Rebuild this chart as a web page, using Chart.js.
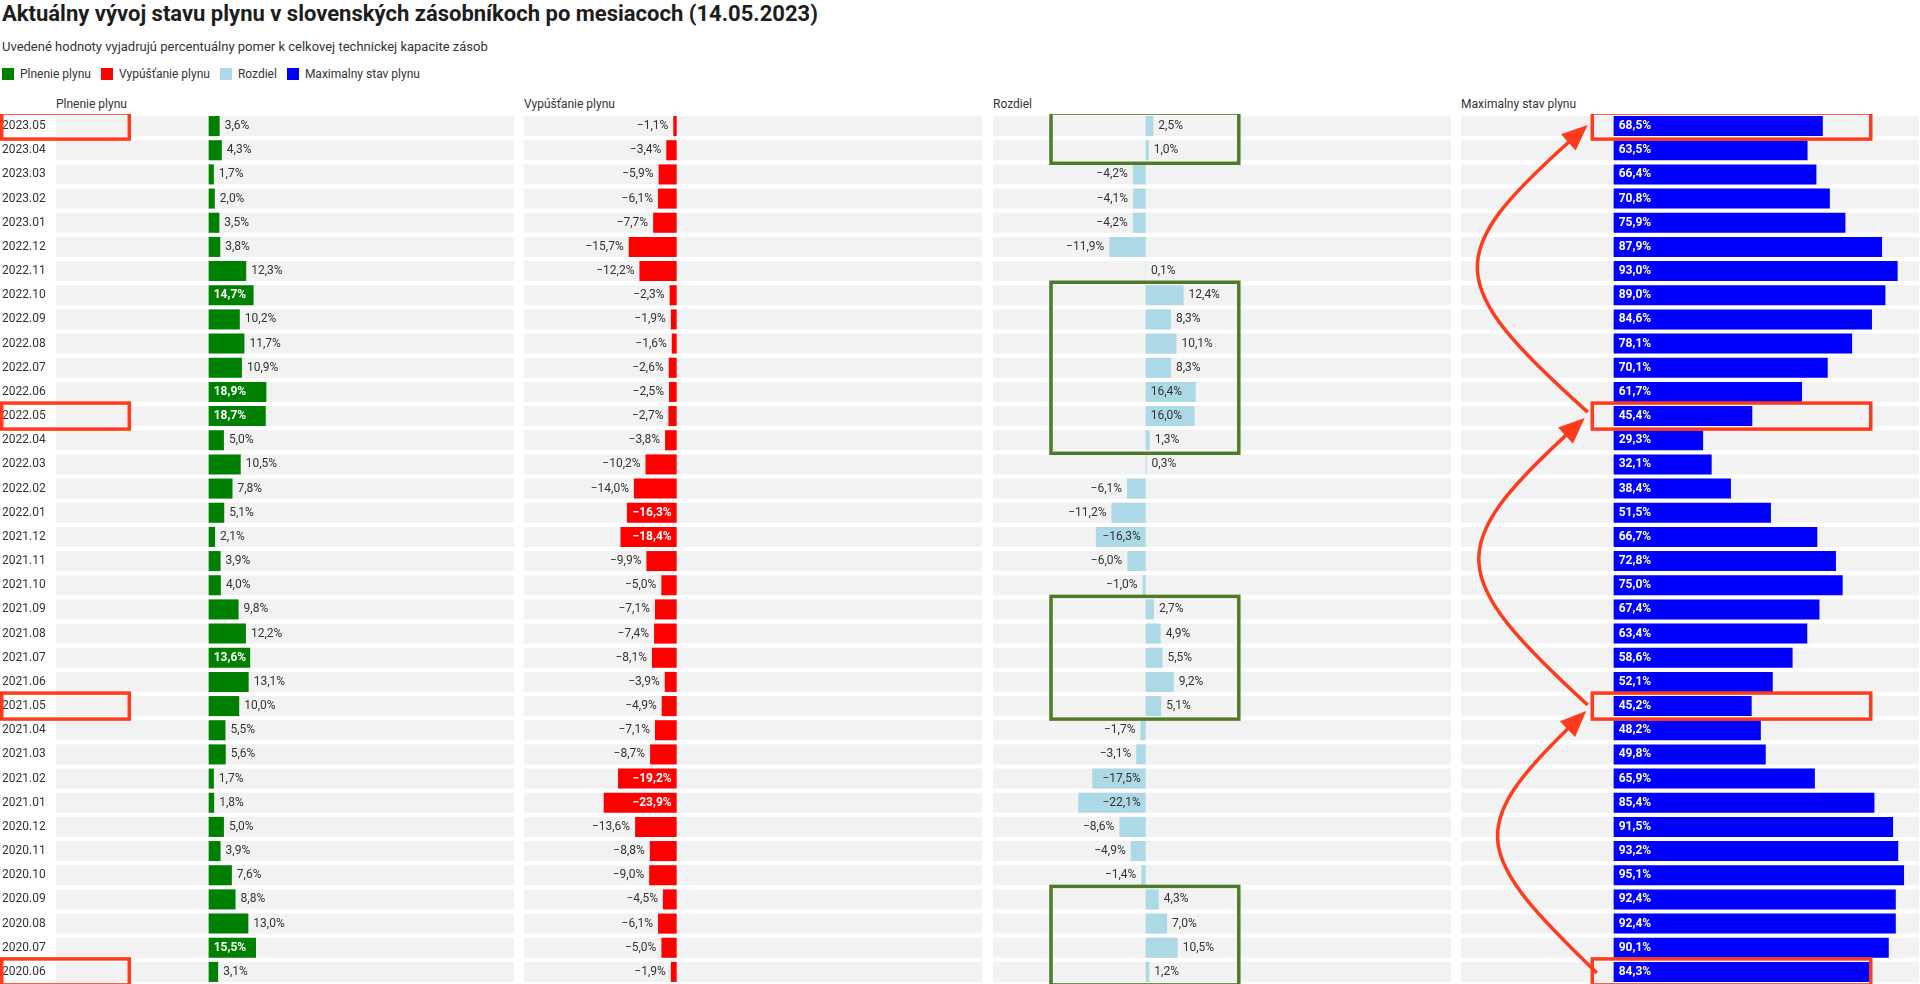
<!DOCTYPE html>
<html>
<head>
<meta charset="utf-8">
<script src="https://cdn.jsdelivr.net/npm/chart.js@4.4.1/dist/chart.umd.min.js"></script>
<style>
  html, body { margin: 0; padding: 0; background: #ffffff; }
  body { width: 1920px; height: 984px; position: relative; overflow: hidden;
         font-family: Roboto, "Noto Sans", sans-serif; color: #333333; }
  #title { position: absolute; left: 2px; top: 1px; font-size: 22px; font-weight: 700;
           color: #1d1d1d; white-space: nowrap; line-height: 26px; }
  #subtitle { position: absolute; left: 2px; top: 39px; font-size: 13px; white-space: nowrap; line-height: 16px; }
  #legend { position: absolute; left: 2px; top: 67px; font-size: 12px; display: flex; white-space: nowrap; line-height: 14px; }
  .leg { display: flex; align-items: center; margin-right: 10px; }
  .sw { width: 12px; height: 12px; margin-right: 6px; }
  .hdr { position: absolute; top: 97px; font-size: 12px; white-space: nowrap; line-height: 14px; }
  .panel { position: absolute; }
</style>
</head>
<body>
<div id="title"></div>
<div id="subtitle"></div>
<div id="legend"></div>
<div id="headers"></div>
<div id="panels"></div>
<script>
// ---------------- DATA ----------------
const months = ['2023.05','2023.04','2023.03','2023.02','2023.01','2022.12','2022.11','2022.10','2022.09','2022.08','2022.07','2022.06','2022.05','2022.04','2022.03','2022.02','2022.01','2021.12','2021.11','2021.10','2021.09','2021.08','2021.07','2021.06','2021.05','2021.04','2021.03','2021.02','2021.01','2020.12','2020.11','2020.10','2020.09','2020.08','2020.07','2020.06'];
const plnenie = [3.6,4.3,1.7,2.0,3.5,3.8,12.3,14.7,10.2,11.7,10.9,18.9,18.7,5.0,10.5,7.8,5.1,2.1,3.9,4.0,9.8,12.2,13.6,13.1,10.0,5.5,5.6,1.7,1.8,5.0,3.9,7.6,8.8,13.0,15.5,3.1];
const vypustanie = [-1.1,-3.4,-5.9,-6.1,-7.7,-15.7,-12.2,-2.3,-1.9,-1.6,-2.6,-2.5,-2.7,-3.8,-10.2,-14.0,-16.3,-18.4,-9.9,-5.0,-7.1,-7.4,-8.1,-3.9,-4.9,-7.1,-8.7,-19.2,-23.9,-13.6,-8.8,-9.0,-4.5,-6.1,-5.0,-1.9];
const rozdiel = [2.5,1.0,-4.2,-4.1,-4.2,-11.9,0.1,12.4,8.3,10.1,8.3,16.4,16.0,1.3,0.3,-6.1,-11.2,-16.3,-6.0,-1.0,2.7,4.9,5.5,9.2,5.1,-1.7,-3.1,-17.5,-22.1,-8.6,-4.9,-1.4,4.3,7.0,10.5,1.2];
const maxStav = [68.5,63.5,66.4,70.8,75.9,87.9,93.0,89.0,84.6,78.1,70.1,61.7,45.4,29.3,32.1,38.4,51.5,66.7,72.8,75.0,67.4,63.4,58.6,52.1,45.2,48.2,49.8,65.9,85.4,91.5,93.2,95.1,92.4,92.4,90.1,84.3];
const seriesNames = ['Plnenie plynu','Vypúšťanie plynu','Rozdiel','Maximalny stav plynu'];
const titleText = 'Aktuálny vývoj stavu plynu v slovenských zásobníkoch po mesiacoch (14.05.2023)';
const subtitleText = 'Uvedené hodnoty vyjadrujú percentuálny pomer k celkovej technickej kapacite zásob';
const axisMin = -50, axisMax = 100;

// annotation targets (rows)
const redRows = ['2023.05','2022.05','2021.05','2020.06'];
const greenGroups = [['2023.05','2023.04'],['2022.10','2022.04'],['2021.09','2021.05'],['2020.09','2020.06']];
const arrowLinks = [['2022.05','2023.05'],['2021.05','2022.05'],['2020.06','2021.05']];

// ---------------- STYLE / LAYOUT ----------------
const seriesValues = [plnenie, vypustanie, rozdiel, maxStav];
const STYLE = {
  colors: ['#008000','#ff0000','#add8e6','#0000ff'],
  insideText: ['#ffffff','#ffffff','#333333','#ffffff'],
  insideBold: [true, true, false, true],
  alwaysInside: [false, false, false, true],
  band: '#f2f2f2', text: '#333333',
  insideGap: 10.0, pad: 5,
  annRed: '#ff3b1d', annGreen: '#4e7b26', annWidth: 3.5
};
const LAYOUT = { lefts: [56, 524, 993, 1461], width: 458, top: 114, height: 870, labelWidth: 56, barPct: 0.83 };

Chart.defaults.font.family = 'Roboto, "Noto Sans", sans-serif';
Chart.defaults.color = STYLE.text;

document.getElementById('title').textContent = titleText;
document.getElementById('subtitle').textContent = subtitleText;
const legendEl = document.getElementById('legend');
seriesNames.forEach((n, i) => {
  const d = document.createElement('div'); d.className = 'leg';
  d.innerHTML = '<div class="sw" style="background:' + STYLE.colors[i] + '"></div><span></span>';
  d.querySelector('span').textContent = n;
  legendEl.appendChild(d);
});
const hdrEl = document.getElementById('headers');
seriesNames.forEach((n, i) => {
  const d = document.createElement('div'); d.className = 'hdr';
  d.style.left = LAYOUT.lefts[i] + 'px'; d.textContent = n; hdrEl.appendChild(d);
});

function fmt(v) {
  const s = Math.abs(v).toFixed(1).replace('.', ',') + '%';
  return v < 0 ? '\u2212' + s : s;
}

const bandPlugin = {
  id: 'bands',
  beforeDatasetsDraw(chart) {
    const ys = chart.scales.y, a = chart.chartArea, ctx = chart.ctx;
    const pitch = ys.height / months.length, h = pitch * LAYOUT.barPct;
    ctx.save(); ctx.fillStyle = STYLE.band;
    months.forEach((m, i) => {
      const yc = ys.getPixelForValue(i);
      ctx.fillRect(a.left, yc - h / 2, a.right - a.left, h);
    });
    ctx.restore();
  }
};

const labelPlugin = {
  id: 'valueLabels',
  afterDatasetsDraw(chart, args, opts) {
    const k = opts.idx, ctx = chart.ctx;
    const meta = chart.getDatasetMeta(0);
    const vals = seriesValues[k];
    ctx.save(); ctx.textBaseline = 'middle';
    meta.data.forEach((bar, i) => {
      const v = vals[i], txt = fmt(v);
      const w = Math.abs(bar.x - bar.base);
      const inFont = (STYLE.insideBold[k] ? '700 ' : '400 ') + '12px Roboto';
      ctx.font = '400 12px Roboto';
      const twReg = ctx.measureText(txt).width;
      const inside = STYLE.alwaysInside[k] || w >= twReg + STYLE.insideGap;
      const dir = v < 0 ? -1 : 1;
      if (inside) {
        ctx.font = inFont; ctx.fillStyle = STYLE.insideText[k];
        ctx.textAlign = dir > 0 ? 'left' : 'right';
        ctx.fillText(txt, bar.base + dir * STYLE.pad, bar.y);
      } else {
        ctx.font = '400 12px Roboto'; ctx.fillStyle = STYLE.text;
        ctx.textAlign = dir > 0 ? 'left' : 'right';
        ctx.fillText(txt, bar.x + dir * STYLE.pad, bar.y);
      }
    });
    ctx.restore();
  }
};

function rowY(chart, label) { return chart.scales.y.getPixelForValue(months.indexOf(label)); }

function strokeBox(ctx, x0, y0, x1, y1, color) {
  ctx.save(); ctx.strokeStyle = color; ctx.lineWidth = STYLE.annWidth; ctx.lineJoin = 'miter';
  ctx.strokeRect(x0, y0, x1 - x0, y1 - y0); ctx.restore();
}

function drawArrow(ctx, tail, tip, bulgeX, color) {
  // cubic curve bulging to the left, ending with a filled arrowhead
  const c = (Math.min(tail.x, tip.x) - bulgeX) / 0.75;
  const d = Math.abs(tail.y - tip.y) * 0.45;
  const cp1 = { x: tail.x - c, y: tail.y - d };
  const cp2 = { x: tip.x - c, y: tip.y + d };
  let ux = tip.x - cp2.x, uy = tip.y - cp2.y; const L = Math.hypot(ux, uy); ux /= L; uy /= L;
  const headLen = 26, headHalf = 11;
  const base = { x: tip.x - ux * headLen * 0.8, y: tip.y - uy * headLen * 0.8 };
  ctx.save();
  ctx.strokeStyle = color; ctx.fillStyle = color; ctx.lineWidth = STYLE.annWidth; ctx.lineCap = 'butt';
  ctx.beginPath(); ctx.moveTo(tail.x, tail.y);
  ctx.bezierCurveTo(cp1.x, cp1.y, cp2.x, cp2.y, base.x, base.y); ctx.stroke();
  const bx = tip.x - ux * headLen, by = tip.y - uy * headLen;
  ctx.beginPath(); ctx.moveTo(tip.x, tip.y);
  ctx.lineTo(bx - uy * headHalf, by + ux * headHalf);
  ctx.lineTo(bx + uy * headHalf, by - ux * headHalf);
  ctx.closePath(); ctx.fill();
  ctx.restore();
}

const annotPlugin = {
  id: 'annot',
  afterDatasetsDraw(chart, args, opts) {
    const k = opts.idx, ctx = chart.ctx, xs = chart.scales.x;
    const half = 13;
    if (k === 0) {
      redRows.forEach(r => { const y = rowY(chart, r);
        strokeBox(ctx, STYLE.annWidth / 2, y - half, xs.getPixelForValue(-26), y + half, STYLE.annRed); });
    }
    if (k === 2) {
      greenGroups.forEach(g => {
        strokeBox(ctx, xs.getPixelForValue(-31), rowY(chart, g[0]) - half,
                  xs.getPixelForValue(30.5), rowY(chart, g[1]) + half, STYLE.annGreen);
      });
    }
    if (k === 3) {
      redRows.forEach(r => { const y = rowY(chart, r);
        strokeBox(ctx, xs.getPixelForValue(-7), y - half, xs.getPixelForValue(84.2), y + half, STYLE.annRed); });
      const geo = [
        { tailX: -8.5, tailDy: -4, tipX: -8.5, tipDy: -1, bulge: -44 },
        { tailX: -8.5, tailDy: -1, tipX: -9.5, tipDy: 2, bulge: -44 },
        { tailX: -5.5, tailDy: 1, tipX: -9, tipDy: 5, bulge: -39 }
      ];
      arrowLinks.forEach((lk, i) => {
        const g = geo[i];
        drawArrow(ctx,
          { x: xs.getPixelForValue(g.tailX), y: rowY(chart, lk[0]) + g.tailDy },
          { x: xs.getPixelForValue(g.tipX), y: rowY(chart, lk[1]) + g.tipDy },
          xs.getPixelForValue(g.bulge), STYLE.annRed);
      });
    }
  }
};

const panelsEl = document.getElementById('panels');
seriesValues.forEach((vals, k) => {
  const wrap = document.createElement('div'); wrap.className = 'panel';
  const left = k === 0 ? 0 : LAYOUT.lefts[k];
  const width = k === 0 ? LAYOUT.lefts[0] + LAYOUT.width : LAYOUT.width;
  wrap.style.left = left + 'px'; wrap.style.top = LAYOUT.top + 'px';
  wrap.style.width = width + 'px'; wrap.style.height = LAYOUT.height + 'px';
  const cv = document.createElement('canvas'); wrap.appendChild(cv); panelsEl.appendChild(wrap);
  new Chart(cv, {
    type: 'bar',
    data: { labels: months, datasets: [{ label: seriesNames[k], data: vals,
      backgroundColor: STYLE.colors[k], borderWidth: 0,
      barPercentage: LAYOUT.barPct, categoryPercentage: 1.0 }] },
    options: {
      indexAxis: 'y', responsive: true, maintainAspectRatio: false, animation: false,
      layout: { padding: { left: k === 0 ? 2 : 0, right: 0, top: 0, bottom: 0 } },
      scales: {
        x: { display: false, min: axisMin, max: axisMax },
        y: k === 0 ? {
          position: 'left', grid: { display: false }, border: { display: false },
          ticks: { crossAlign: 'far', padding: 0, autoSkip: false, color: STYLE.text, font: { size: 12 } },
          afterFit(s) { s.width = LAYOUT.labelWidth - 2; s.paddingTop = 0; s.paddingBottom = 0; }
        } : { display: false }
      },
      plugins: { legend: { display: false }, tooltip: { enabled: false }, title: { display: false },
        valueLabels: { idx: k }, annot: { idx: k } }
    },
    plugins: [bandPlugin, labelPlugin, annotPlugin]
  });
});
</script>
</body>
</html>
